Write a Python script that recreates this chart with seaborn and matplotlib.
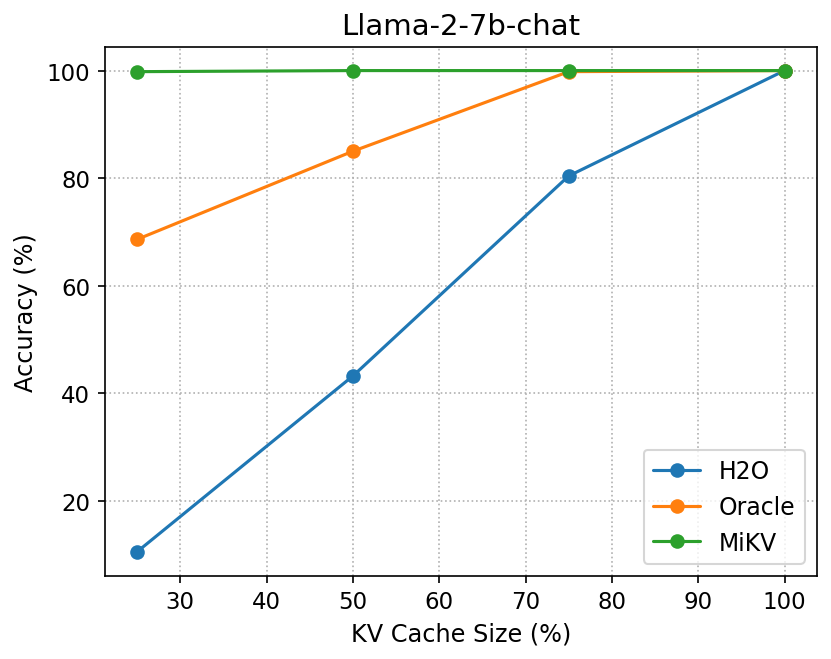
import matplotlib
matplotlib.use("Agg")
import matplotlib.pyplot as plt
import seaborn as sns
import pandas as pd

cache_sizes = [25, 50, 75, 100]
h2o = [10.5, 43.2, 80.4, 100.0]
oracle = [68.6, 85.0, 99.8, 100.0]
mikv = [99.8, 100.0, 100.0, 100.0]
methods = ["H2O", "Oracle", "MiKV"]

df = pd.DataFrame({
    "size": cache_sizes * 3,
    "acc": h2o + oracle + mikv,
    "method": [m for m in methods for _ in cache_sizes],
})

sns.set_style("ticks")
plt.rcParams['font.family'] = ['DejaVu Sans']
plt.rcParams['text.color'] = 'black'
plt.rcParams['axes.labelcolor'] = 'black'
plt.rcParams['xtick.color'] = 'black'
plt.rcParams['ytick.color'] = 'black'
fig = plt.figure(figsize=(8.31/1.5, 6.6/1.5), dpi=150)
ax = fig.add_axes([0.126, 0.126, 0.857, 0.802])
palette = ["#1f77b4", "#ff7f0e", "#2ca02c"]
sns.lineplot(data=df, x="size", y="acc", hue="method", palette=palette,
             marker="o", markersize=7, markeredgewidth=0, linewidth=1.5, ax=ax)
ax.grid(True, linestyle=":", color="#b0b0b0", linewidth=0.8)
ax.set_title("Llama-2-7b-chat", fontsize=14)
ax.set_xlabel("KV Cache Size (%)", fontsize=11.5)
ax.set_ylabel("Accuracy (%)", fontsize=11.5)
ax.tick_params(labelsize=11, length=3.5, width=0.8)
ax.margins(0.05)
ax.legend(loc="lower right", fontsize=11.3, title=None)
for s in ax.spines.values():
    s.set_color("black")
    s.set_linewidth(0.8)
fig.savefig("out.png", dpi=150)
